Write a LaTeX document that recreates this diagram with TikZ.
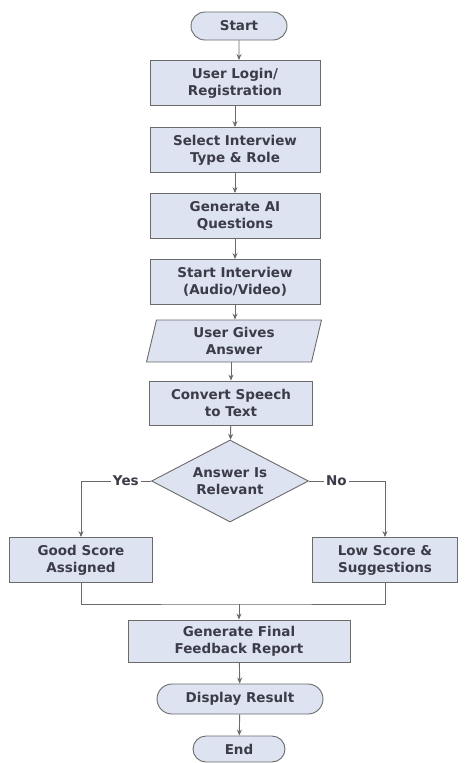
\documentclass[tikz,border=0pt]{standalone}
\usepackage{fontspec}
\setmainfont{DejaVu Sans}
\usetikzlibrary{shapes.geometric,shapes.misc,arrows.meta}
\definecolor{boxfill}{HTML}{DDE3F1}
\definecolor{boxline}{HTML}{6A6A6A}
\definecolor{txt}{HTML}{3C3C48}
\begin{document}
\begin{tikzpicture}[x=1pt,y=-1pt,
  base/.style={draw=boxline,fill=boxfill,line width=0.9pt,text=txt,font=\fontsize{13.5}{17}\selectfont\bfseries,align=center,inner sep=0pt},
  procbox/.style={base,rectangle,minimum width=170pt,minimum height=45pt},
  term/.style={base,rounded rectangle,minimum height=28pt},
  iobox/.style={base,trapezium,trapezium left angle=70,trapezium right angle=110,minimum width=150pt,minimum height=42pt,trapezium stretches body},
  dec/.style={base,diamond,aspect=1.9,minimum width=157pt,minimum height=82pt},
  conn/.style={draw=boxline,line width=0.9pt,-{Stealth[length=6pt,width=5pt]}},
  plain/.style={draw=boxline,line width=0.9pt},
  lbl/.style={fill=white,text=txt,font=\fontsize{13.5}{15}\selectfont\bfseries,inner sep=2pt}
]
\useasboundingbox (0,0) rectangle (466,763);
\node[term,minimum width=96pt] (start) at (239,26) {Start};
\node[procbox] (login) at (235,83) {User Login/\\Registration};
\node[procbox] (sel) at (235,150) {Select Interview\\Type \& Role};
\node[procbox] (gen) at (235,216) {Generate AI\\Questions};
\node[procbox] (si) at (235,282) {Start Interview\\(Audio/Video)};
\node[iobox,minimum width=175pt] (ans) at (234,341) {User Gives\\Answer};
\node[procbox,minimum width=163pt,minimum height=44pt] (conv) at (231,403) {Convert Speech\\to Text};
\node[dec] (d) at (230,481) {Answer Is\\Relevant};
\node[procbox,minimum width=143pt] (good) at (81,560) {Good Score\\Assigned};
\node[procbox,minimum width=145pt] (low) at (385,560) {Low Score \&\\Suggestions};
\node[procbox,minimum width=222pt,minimum height=42pt] (fin) at (239,641) {Generate Final\\Feedback Report};
\node[term,minimum width=166pt,minimum height=30pt] (disp) at (240,699) {Display Result};
\node[term,minimum width=92pt,minimum height=26pt] (end) at (239,749) {End};
\coordinate (m) at (fin.north |- 0,604);
\draw[conn] (start) -- (start |- login.north);
\draw[conn] (login) -- (sel);
\draw[conn] (sel) -- (gen);
\draw[conn] (gen) -- (si);
\draw[conn] (si) -- (si |- ans.north);
\draw[conn] (ans.south -| conv) -- (conv);
\draw[conn] (conv) -- (d);
\draw[conn] (d.west) -| node[lbl,pos=0.18]{Yes} (good.north);
\draw[conn] (d.east) -| node[lbl,pos=0.18]{No} (low.north);
\draw[plain] (good.south) |- (m) -| (low.south);
\draw[conn] (m) -- (fin.north);
\draw[conn] (fin) -- (disp);
\draw[conn] (disp) -- (end);
\end{tikzpicture}
\end{document}
